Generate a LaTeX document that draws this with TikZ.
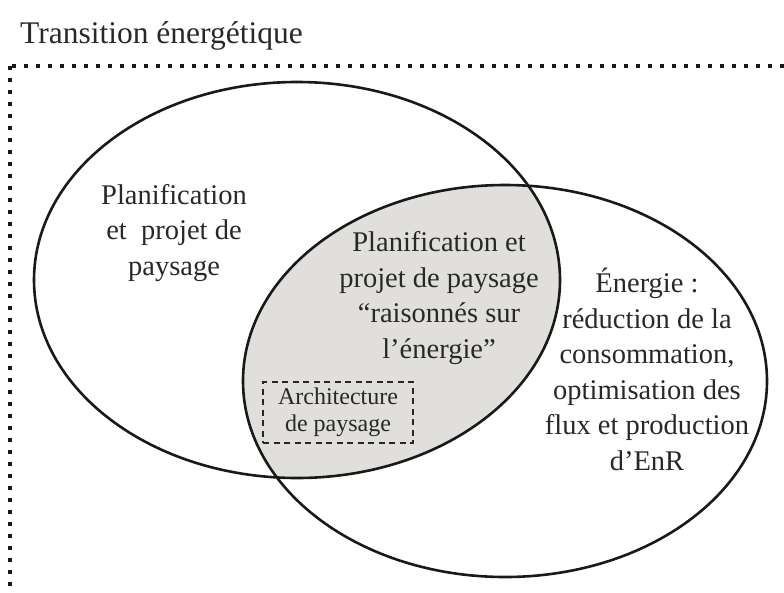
\documentclass[tikz,border=0pt]{standalone}
\usepackage{fontspec}
\setmainfont{Liberation Serif}
\definecolor{interfill}{RGB}{224,223,220}
\definecolor{inktext}{RGB}{40,40,40}
\begin{document}
\begin{tikzpicture}[x=1pt,y=-1pt,
  venn/.style={line width=2.6pt, draw=black!90},
  dotborder/.style={line width=3.2pt, dash pattern=on 4pt off 8pt, draw=black!90},
  bigtext/.style={align=center, text=inktext, inner sep=0pt, font=\fontsize{28.5}{35.5}\selectfont},
  smalltext/.style={align=center, text=inktext, font=\fontsize{24}{27}\selectfont},
  archbox/.style={draw=black!85, line width=1.5pt, dash pattern=on 6pt off 4.5pt, minimum width=150pt, minimum height=61pt, inner sep=0pt}
]
\useasboundingbox (0,0) rectangle (784,592);
% intersection fill
\begin{scope}
  \clip (297,280) ellipse [x radius=263pt, y radius=198pt];
  \fill[interfill] (505,381) ellipse [x radius=262pt, y radius=196pt];
\end{scope}
% ellipses
\draw[venn] (297,280) ellipse [x radius=263pt, y radius=198pt];
\draw[venn] (505,381) ellipse [x radius=262pt, y radius=196pt];
% dotted border
\coordinate (tl) at (10,66);
\coordinate (tr) at (784,66);
\coordinate (bl) at (10,592);
\draw[dotborder] (tr) -- (8,66);
\draw[dotborder] (tl) -- (bl);
% title
\node[anchor=base west, inner sep=0pt, text=inktext, font=\fontsize{31.5}{38}\selectfont] (title) at (20,43) {Transition énergétique};
% texts
\node[bigtext, anchor=base] (plan) at (174,275) {Planification\\et\ \ projet de\\paysage};
\node[bigtext, anchor=base] (inter) at (439,358) {Planification et\\projet de paysage\\“raisonnés sur\\l’énergie”};
\node[bigtext, anchor=base] (energie) at (647,470) {Énergie :\\réduction de la\\consommation,\\optimisation des\\flux et production\\d’EnR};
\node[archbox, smalltext] (archi) at (338,412.5) {Architecture\\de paysage};
\end{tikzpicture}
\end{document}
